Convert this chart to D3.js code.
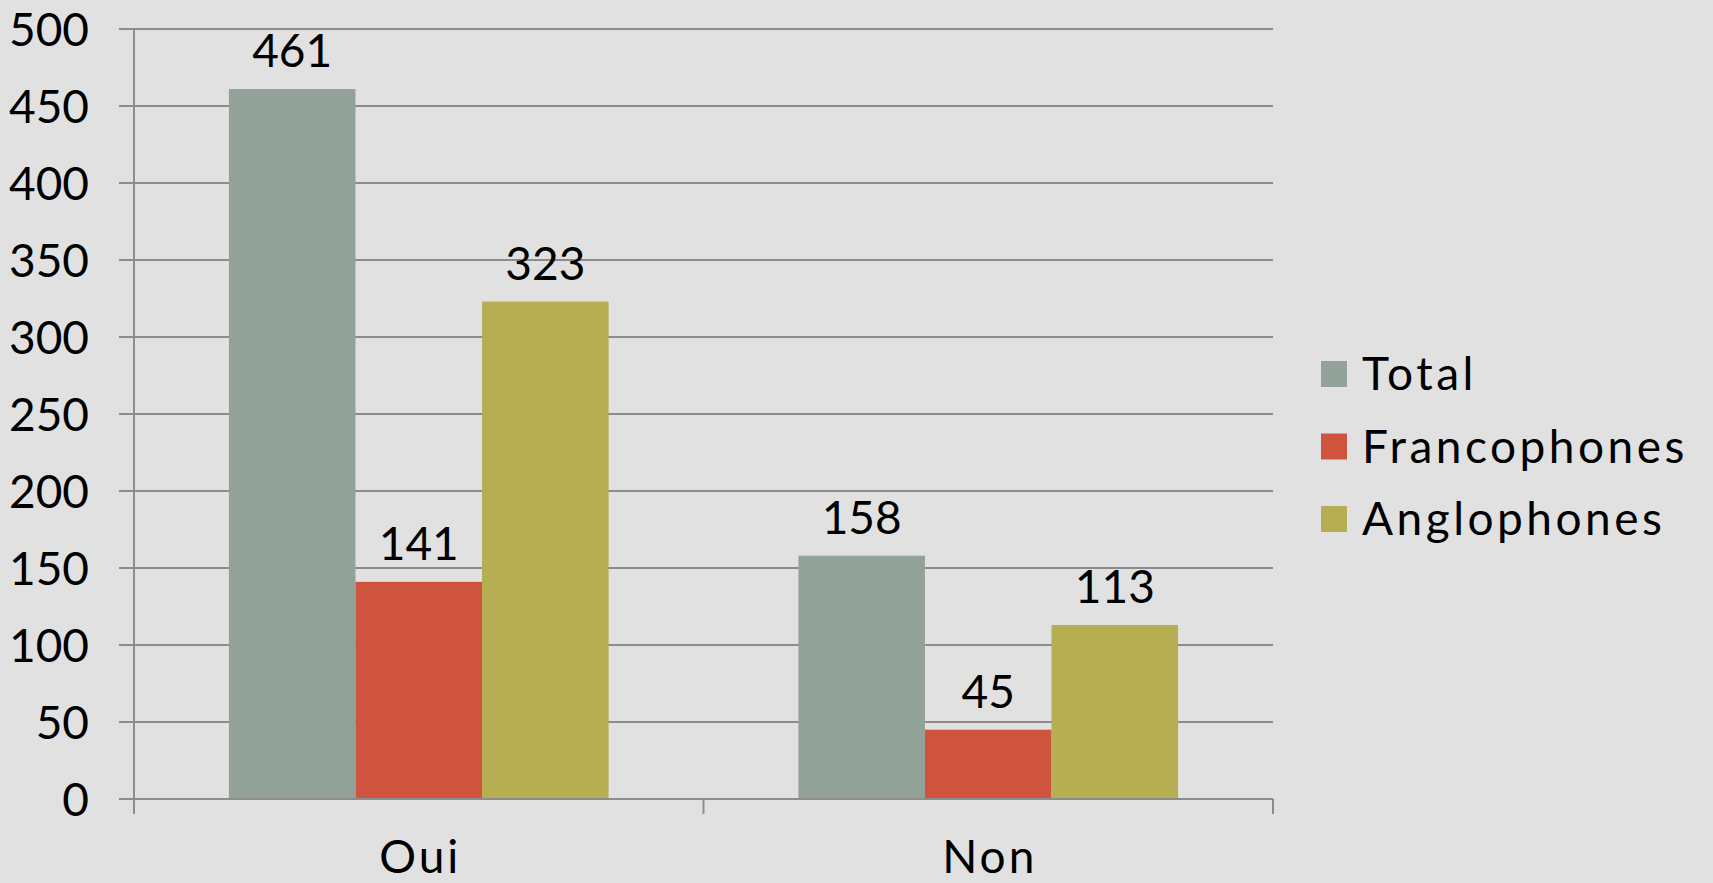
<!DOCTYPE html>
<html>
<head>
<meta charset="utf-8">
<script src="https://cdn.jsdelivr.net/npm/d3@7"></script>
<style>
  html, body { margin: 0; padding: 0; background: #e1e1e1; overflow: hidden; }
  svg { display: block; }
</style>
</head>
<body>
<script>
// chart values
const categories = ['Oui', 'Non'];
const seriesNames = ['Total', 'Francophones', 'Anglophones'];
const seriesColors = ['#93a299', '#cf543f', '#b5ae53'];
const totalValues = [461, 158];
const francoValues = [141, 45];
const angloValues = [323, 113];
const yTicks = [0, 50, 100, 150, 200, 250, 300, 350, 400, 450, 500];

const W = 1713, H = 883;
const margin = { top: 29, right: 440, bottom: 84, left: 134 };
const width = W - margin.left - margin.right;
const height = H - margin.top - margin.bottom;
const font = 'Lato, "Noto Sans", sans-serif';
const fontSize = 46;
const gridColor = '#8c8c8c';

const valuesBySeries = [totalValues, francoValues, angloValues];
const rows = categories.map((c, i) => ({
  cat: c,
  vals: seriesNames.map((s, j) => ({ name: s, value: valuesBySeries[j][i], color: seriesColors[j] }))
}));

const svg = d3.select('body')
  .append('svg')
  .attr('width', W)
  .attr('height', H);

const g = svg.append('g')
  .attr('transform', `translate(${margin.left},${margin.top})`);

const x0 = d3.scaleBand().domain(categories).range([0, width]);
// gap width 150% like the office chart: 0.75 step on each side
const x1 = d3.scaleBand().domain(seriesNames).range([0, x0.bandwidth()]).paddingInner(0).paddingOuter(0.75);
const y = d3.scaleLinear().domain([0, 500]).range([height, 0]);

// horizontal gridlines + left ticks
g.selectAll('.grid')
  .data(yTicks.filter(d => d > 0))
  .enter()
  .append('line')
    .attr('class', 'grid')
    .attr('x1', -15)
    .attr('x2', width)
    .attr('y1', d => y(d))
    .attr('y2', d => y(d))
    .style('stroke', gridColor)
    .style('stroke-width', 2);

// y tick labels
g.selectAll('.ylab')
  .data(yTicks)
  .enter()
  .append('text')
    .attr('class', 'ylab')
    .attr('x', -45)
    .attr('y', d => y(d))
    .attr('dy', '0.36em')
    .attr('text-anchor', 'end')
    .style('font-family', font)
    .style('font-size', fontSize + 'px')
    .style('fill', '#000')
    .text(d => d);

// bars
const groups = g.selectAll('.grp')
  .data(rows)
  .enter()
  .append('g')
    .attr('class', 'grp')
    .attr('transform', d => `translate(${x0(d.cat)},0)`);

groups.selectAll('rect')
  .data(d => d.vals)
  .enter()
  .append('rect')
    .attr('x', d => x1(d.name))
    .attr('y', d => y(d.value))
    .attr('width', x1.bandwidth())
    .attr('height', d => height - y(d.value))
    .style('fill', d => d.color);

groups.selectAll('.vlab')
  .data(d => d.vals)
  .enter()
  .append('text')
    .attr('class', 'vlab')
    .attr('x', d => x1(d.name) + x1.bandwidth() / 2)
    .attr('y', d => y(d.value) - 22)
    .attr('text-anchor', 'middle')
    .style('font-family', font)
    .style('font-size', fontSize + 'px')
    .style('fill', '#000')
    .text(d => d.value);

// axes lines
g.append('line')
  .attr('x1', 0).attr('x2', 0)
  .attr('y1', 0).attr('y2', height)
  .style('stroke', gridColor).style('stroke-width', 2);

g.append('line')
  .attr('x1', -15).attr('x2', width)
  .attr('y1', height).attr('y2', height)
  .style('stroke', gridColor).style('stroke-width', 2);

// category boundary ticks
const bounds = [0, ...categories.map(c => x0(c) + x0.bandwidth())];
g.selectAll('.xtick')
  .data(bounds)
  .enter()
  .append('line')
    .attr('class', 'xtick')
    .attr('x1', d => d).attr('x2', d => d)
    .attr('y1', height).attr('y2', height + 15)
    .style('stroke', gridColor).style('stroke-width', 2);

g.selectAll('.xlab')
  .data(categories)
  .enter()
  .append('text')
    .attr('class', 'xlab')
    .attr('x', d => x0(d) + x0.bandwidth() / 2 + 1.5)
    .attr('y', height + 74)
    .attr('text-anchor', 'middle')
    .style('font-family', font)
    .style('font-size', fontSize + 'px')
    .style('letter-spacing', '3px')
    .style('fill', '#000')
    .text(d => d);

// legend
const legend = svg.append('g')
  .attr('transform', 'translate(1321,361)');

const items = legend.selectAll('.leg')
  .data(seriesNames)
  .enter()
  .append('g')
    .attr('class', 'leg')
    .attr('transform', (d, i) => `translate(0,${i * 72.5})`);

items.append('rect')
  .attr('width', 26)
  .attr('height', 26)
  .style('fill', (d, i) => seriesColors[i]);

items.append('text')
  .attr('x', 41)
  .attr('y', 29)
  .style('font-family', font)
  .style('font-size', fontSize + 'px')
  .style('letter-spacing', '3.5px')
  .style('fill', '#000')
  .text(d => d);
</script>
</body>
</html>
